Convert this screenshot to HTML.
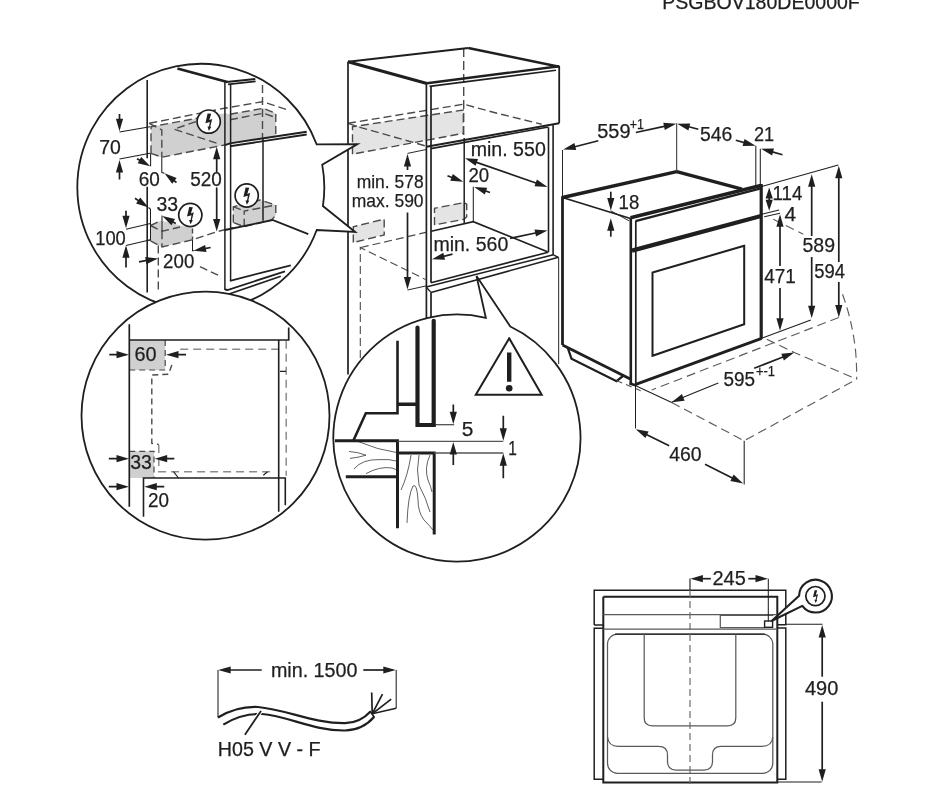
<!DOCTYPE html>
<html><head><meta charset="utf-8">
<title>PSGBOV180DE0000F</title>
<style>
html,body{margin:0;padding:0;background:#fff;}
body{width:944px;height:786px;overflow:hidden;}
svg{display:block;filter:grayscale(1) blur(0.35px);}
svg text{font-family:"Liberation Sans",sans-serif;}
</style></head><body>
<svg width="944" height="786" viewBox="0 0 944 786">
<rect width="944" height="786" fill="#fff"/>
<text x="662.2" y="9.0" font-size="19.4" fill="#1f1f1f" stroke="#1f1f1f" stroke-width="0.25" text-anchor="start" textLength="197.6" lengthAdjust="spacingAndGlyphs" >PSGBOV180DE0000F</text>
<polygon points="352.5,126.7 463.3,110.0 463.3,133.3 352.5,154.2" fill="#e3e4e6" stroke="none" stroke-width="0"/>
<polygon points="353.3,226.7 384.2,219.2 384.2,235.0 353.3,242.5" fill="#e3e4e6" stroke="none" stroke-width="0"/>
<polygon points="434.5,208.3 464.2,202.5 466.7,204.2 466.7,216.7 464.2,219.2 434.5,225.0" fill="#e3e4e6" stroke="none" stroke-width="0"/>
<path d="M348.0 123.3 L463.7 104.2 L497.0 113.3 L541.7 124.2" fill="none" stroke="#4a4a4a" stroke-width="1.4" stroke-dasharray="8 4" />
<path d="M352.5 154.2 L352.5 126.7 L463.3 110.0 L463.3 133.3 L352.5 154.2" fill="none" stroke="#4a4a4a" stroke-width="1.4" stroke-dasharray="8 4" />
<path d="M348.0 123.3 L361.0 127.6 L428.3 146.7" fill="none" stroke="#4a4a4a" stroke-width="1.4" stroke-dasharray="8 4" />
<path d="M463.7 48.0 L463.7 138.0" fill="none" stroke="#4a4a4a" stroke-width="1.4" stroke-dasharray="9 4" />
<path d="M353.3 242.5 L353.3 226.7 L384.2 219.2 L384.2 235.0 L353.3 242.5" fill="none" stroke="#4a4a4a" stroke-width="1.4" stroke-dasharray="8 4" />
<path d="M434.5 225.0 L434.5 208.3 L464.2 202.5 L466.7 204.2 L466.7 216.7 L464.2 219.2 L434.5 225.0" fill="none" stroke="#4a4a4a" stroke-width="1.4" stroke-dasharray="8 4" />
<path d="M360.8 247.5 L426.7 232.2" fill="none" stroke="#4a4a4a" stroke-width="1.2" stroke-dasharray="8 4" />
<path d="M360.3 358.0 L360.3 247.5 L425.5 279.5" fill="none" stroke="#4a4a4a" stroke-width="1.1" stroke-dasharray="8 4" />
<path d="M348.0 61.7 L348.0 374.5" fill="none" stroke="#1f1f1f" stroke-width="1.7" />
<path d="M348.0 61.7 L468.3 48.0" fill="none" stroke="#1f1f1f" stroke-width="2.0" />
<path d="M468.3 48.0 L559.2 66.7" fill="none" stroke="#1f1f1f" stroke-width="2.6" />
<path d="M348.0 61.7 L427.0 83.5" fill="none" stroke="#1f1f1f" stroke-width="3.0" />
<path d="M427.0 83.2 L559.2 66.3" fill="none" stroke="#1f1f1f" stroke-width="2.4" />
<path d="M429.5 86.4 L556.0 70.2" fill="none" stroke="#1f1f1f" stroke-width="1.6" />
<path d="M559.2 66.0 L559.2 123.3" fill="none" stroke="#1f1f1f" stroke-width="1.8" />
<path d="M426.4 146.8 L559.2 123.2" fill="none" stroke="#1f1f1f" stroke-width="2.0" />
<path d="M431.0 148.6 L548.3 127.0" fill="none" stroke="#1f1f1f" stroke-width="1.6" />
<path d="M426.4 83.5 L426.4 318.0" fill="none" stroke="#1f1f1f" stroke-width="1.7" />
<path d="M431.0 86.0 L431.0 282.7" fill="none" stroke="#1f1f1f" stroke-width="1.7" />
<path d="M431.0 292.4 L431.0 318.0" fill="none" stroke="#1f1f1f" stroke-width="1.7" />
<path d="M548.5 127.3 L548.5 252.2" fill="none" stroke="#1f1f1f" stroke-width="1.6" />
<path d="M553.1 124.7 L553.1 255.0" fill="none" stroke="#1f1f1f" stroke-width="1.6" />
<path d="M558.6 257.3 L558.6 364.0" fill="none" stroke="#4a4a4a" stroke-width="1.2" />
<path d="M464.2 138.0 L464.2 223.3" fill="none" stroke="#1f1f1f" stroke-width="1.5" />
<path d="M473.3 186.7 L473.3 221.7" fill="none" stroke="#1f1f1f" stroke-width="1.05" />
<path d="M431.2 231.3 L473.3 221.7 L547.5 251.7" fill="none" stroke="#1f1f1f" stroke-width="1.6" />
<path d="M431.0 282.7 L548.2 252.2" fill="none" stroke="#1f1f1f" stroke-width="1.7" />
<path d="M426.2 287.0 L553.4 254.8" fill="none" stroke="#1f1f1f" stroke-width="1.6" />
<path d="M431.0 292.4 L558.4 257.3" fill="none" stroke="#1f1f1f" stroke-width="1.6" />
<path d="M426.2 287.0 L431.0 292.4" fill="none" stroke="#1f1f1f" stroke-width="1.4" />
<path d="M553.4 254.8 L558.4 257.3" fill="none" stroke="#1f1f1f" stroke-width="1.4" />
<polygon points="407.5,154.0 411.1,166.5 403.9,166.5" fill="#1f1f1f" stroke="none" stroke-width="0"/>
<path d="M407.5 170.0 L407.5 164.0" fill="none" stroke="#1f1f1f" stroke-width="1.7" />
<path d="M407.5 153.4 L426.7 149.4" fill="none" stroke="#1f1f1f" stroke-width="0.95" />
<polygon points="407.5,289.6 403.9,277.1 411.1,277.1" fill="#1f1f1f" stroke="none" stroke-width="0"/>
<path d="M407.5 212.5 L407.5 279.6" fill="none" stroke="#1f1f1f" stroke-width="1.7" />
<path d="M407.5 290.0 L426.7 285.8" fill="none" stroke="#1f1f1f" stroke-width="0.95" />
<text x="356.7" y="187.6" font-size="19" fill="#1f1f1f" stroke="#1f1f1f" stroke-width="0.25" text-anchor="start" textLength="66.9" lengthAdjust="spacingAndGlyphs" >min. 578</text>
<text x="351.7" y="207.3" font-size="19" fill="#1f1f1f" stroke="#1f1f1f" stroke-width="0.25" text-anchor="start" textLength="71.9" lengthAdjust="spacingAndGlyphs" >max. 590</text>
<text x="470.7" y="155.6" font-size="20" fill="#1f1f1f" stroke="#1f1f1f" stroke-width="0.25" text-anchor="start" textLength="75.1" lengthAdjust="spacingAndGlyphs" >min. 550</text>
<polygon points="465.0,158.3 478.0,159.0 475.6,165.8" fill="#1f1f1f" stroke="none" stroke-width="0"/>
<polygon points="547.5,187.0 534.5,186.3 536.9,179.5" fill="#1f1f1f" stroke="none" stroke-width="0"/>
<path d="M474.4 161.6 L538.1 183.7" fill="none" stroke="#1f1f1f" stroke-width="1.7" />
<text x="468.4" y="182.3" font-size="20" fill="#1f1f1f" stroke="#1f1f1f" stroke-width="0.25" text-anchor="start" textLength="20.7" lengthAdjust="spacingAndGlyphs" >20</text>
<polygon points="463.3,181.7 450.3,180.7 452.8,174.0" fill="#1f1f1f" stroke="none" stroke-width="0"/>
<path d="M447.5 175.8 L453.9 178.2" fill="none" stroke="#1f1f1f" stroke-width="1.7" />
<polygon points="474.2,187.0 487.2,187.7 484.8,194.5" fill="#1f1f1f" stroke="none" stroke-width="0"/>
<path d="M490.0 192.5 L483.6 190.3" fill="none" stroke="#1f1f1f" stroke-width="1.7" />
<text x="433.4" y="251.4" font-size="20" fill="#1f1f1f" stroke="#1f1f1f" stroke-width="0.25" text-anchor="start" textLength="74.9" lengthAdjust="spacingAndGlyphs" >min. 560</text>
<polygon points="432.0,259.2 443.3,252.7 445.0,259.7" fill="#1f1f1f" stroke="none" stroke-width="0"/>
<path d="M452.5 254.2 L441.7 256.8" fill="none" stroke="#1f1f1f" stroke-width="1.7" />
<polygon points="547.5,230.5 536.0,236.6 534.5,229.5" fill="#1f1f1f" stroke="none" stroke-width="0"/>
<path d="M510.0 238.3 L537.7 232.5" fill="none" stroke="#1f1f1f" stroke-width="1.7" />
<path d="M562.5 150.0 L562.5 197.5" fill="none" stroke="#1f1f1f" stroke-width="0.95" />
<path d="M676.7 123.3 L676.7 171.7" fill="none" stroke="#1f1f1f" stroke-width="0.95" />
<path d="M562.5 197.5 L676.7 171.7" fill="none" stroke="#1f1f1f" stroke-width="3.4" />
<path d="M676.7 171.7 L742.0 189.2" fill="none" stroke="#1f1f1f" stroke-width="3.4" />
<path d="M562.5 197.5 L630.5 218.5" fill="none" stroke="#1f1f1f" stroke-width="1.7" />
<path d="M562.5 196.2 L562.5 345.0" fill="none" stroke="#1f1f1f" stroke-width="2.8" />
<path d="M630.5 217.8 L760.8 185.6" fill="none" stroke="#1f1f1f" stroke-width="3.6" />
<path d="M635.5 221.2 L760.8 188.4" fill="none" stroke="#1f1f1f" stroke-width="2.4" />
<path d="M630.8 218.0 L630.8 384.5" fill="none" stroke="#1f1f1f" stroke-width="2.6" />
<path d="M635.8 221.0 L635.8 385.5" fill="none" stroke="#1f1f1f" stroke-width="1.7" />
<path d="M761.2 184.0 L761.2 338.8" fill="none" stroke="#1f1f1f" stroke-width="3.2" />
<path d="M632.0 250.6 L761.0 216.0" fill="none" stroke="#1f1f1f" stroke-width="4.2" />
<path d="M652.5 272.5 L744.2 245.8 L744.2 324.2 L652.5 355.8 L652.5 272.5 L744.2 245.8" fill="none" stroke="#1f1f1f" stroke-width="2.0" />
<path d="M562.5 345.0 L630.8 379.2" fill="none" stroke="#1f1f1f" stroke-width="2.8" />
<path d="M635.8 384.4 L761.7 338.3" fill="none" stroke="#1f1f1f" stroke-width="3.0" />
<path d="M629.6 383.6 L636.4 385.4" fill="none" stroke="#1f1f1f" stroke-width="2.6" />
<path d="M567.8 348.0 L571.5 358.8 L616.5 381.2 L623.8 375.4" fill="none" stroke="#1f1f1f" stroke-width="2.3" />
<path d="M616.7 380.8 L643.3 391.7" fill="none" stroke="#5c5c5c" stroke-width="1.1" stroke-dasharray="6 4" />
<path d="M838.8 317.5 L651.7 390.0" fill="none" stroke="#5c5c5c" stroke-width="1.15" stroke-dasharray="9 5" />
<path d="M766.7 339.2 L794.2 352.5 L856.7 379.2" fill="none" stroke="#5c5c5c" stroke-width="1.15" stroke-dasharray="9 5" />
<path d="M671.7 402.5 L744.2 440.8 L856.7 379.2" fill="none" stroke="#5c5c5c" stroke-width="1.15" stroke-dasharray="9 5" />
<path d="M842.5 294.2 Q852 320 855.5 350 Q856.8 365 856.7 379.2" fill="none" stroke="#5c5c5c" stroke-width="1.15" stroke-dasharray="9 5" />
<path d="M773.3 219.2 L803.3 234.2" fill="none" stroke="#5c5c5c" stroke-width="1.1" stroke-dasharray="9 5" />
<path d="M635.8 385.8 L671.7 402.5" fill="none" stroke="#1f1f1f" stroke-width="1.05" />
<path d="M635.5 385.0 L635.5 428.5" fill="none" stroke="#1f1f1f" stroke-width="1.05" />
<path d="M744.2 440.8 L744.2 484.5" fill="none" stroke="#1f1f1f" stroke-width="1.05" />
<path d="M761.7 338.3 L810.8 320.0" fill="none" stroke="#1f1f1f" stroke-width="1.05" />
<path d="M760.8 186.7 L838.3 165.0" fill="none" stroke="#1f1f1f" stroke-width="1.05" />
<polygon points="563.2,149.6 574.4,143.1 576.2,150.1" fill="#1f1f1f" stroke="none" stroke-width="0"/>
<path d="M598.3 140.8 L572.9 147.2" fill="none" stroke="#1f1f1f" stroke-width="1.7" />
<polygon points="676.3,123.7 664.8,129.9 663.3,122.8" fill="#1f1f1f" stroke="none" stroke-width="0"/>
<path d="M635.8 132.5 L666.5 125.8" fill="none" stroke="#1f1f1f" stroke-width="1.7" />
<text x="597.2" y="137.5" font-size="20" fill="#1f1f1f" stroke="#1f1f1f" stroke-width="0.25" text-anchor="start" textLength="33.3" lengthAdjust="spacingAndGlyphs" >559</text>
<text x="629.8" y="128.6" font-size="14" fill="#1f1f1f" stroke="#1f1f1f" stroke-width="0.25" text-anchor="start" textLength="14.2" lengthAdjust="spacingAndGlyphs" >+1</text>
<polygon points="677.2,123.8 690.2,123.4 688.4,130.4" fill="#1f1f1f" stroke="none" stroke-width="0"/>
<path d="M698.3 129.2 L686.9 126.3" fill="none" stroke="#1f1f1f" stroke-width="1.7" />
<text x="700.0" y="140.6" font-size="20" fill="#1f1f1f" stroke="#1f1f1f" stroke-width="0.25" text-anchor="start" textLength="32.4" lengthAdjust="spacingAndGlyphs" >546</text>
<text x="753.9" y="140.6" font-size="20" fill="#1f1f1f" stroke="#1f1f1f" stroke-width="0.25" text-anchor="start" textLength="20.2" lengthAdjust="spacingAndGlyphs" >21</text>
<polygon points="755.6,145.7 742.6,145.9 744.5,138.9" fill="#1f1f1f" stroke="none" stroke-width="0"/>
<path d="M735.8 140.3 L746.0 143.1" fill="none" stroke="#1f1f1f" stroke-width="1.7" />
<polygon points="761.0,148.8 774.0,148.6 772.1,155.6" fill="#1f1f1f" stroke="none" stroke-width="0"/>
<path d="M782.5 154.7 L770.6 151.4" fill="none" stroke="#1f1f1f" stroke-width="1.7" />
<path d="M755.8 145.8 L755.8 185.0" fill="none" stroke="#1f1f1f" stroke-width="1.05" />
<path d="M760.3 148.7 L760.3 185.8" fill="none" stroke="#1f1f1f" stroke-width="1.05" />
<polygon points="610.8,210.5 607.2,198.0 614.4,198.0" fill="#1f1f1f" stroke="none" stroke-width="0"/>
<path d="M610.8 191.7 L610.8 200.5" fill="none" stroke="#1f1f1f" stroke-width="1.7" />
<polygon points="610.8,218.3 614.4,230.8 607.2,230.8" fill="#1f1f1f" stroke="none" stroke-width="0"/>
<path d="M610.8 236.7 L610.8 228.3" fill="none" stroke="#1f1f1f" stroke-width="1.7" />
<path d="M610.8 210.8 L629.0 220.8" fill="none" stroke="#1f1f1f" stroke-width="0.95" />
<text x="618.6" y="209.0" font-size="20" fill="#1f1f1f" stroke="#1f1f1f" stroke-width="0.25" text-anchor="start" textLength="20.7" lengthAdjust="spacingAndGlyphs" >18</text>
<polygon points="769.2,187.5 772.8,198.5 765.6,198.5" fill="#1f1f1f" stroke="none" stroke-width="0"/>
<path d="M769.2 199.0 L769.2 196.3" fill="none" stroke="#1f1f1f" stroke-width="1.7" />
<polygon points="769.2,210.8 765.6,199.8 772.8,199.8" fill="#1f1f1f" stroke="none" stroke-width="0"/>
<path d="M769.2 199.0 L769.2 202.0" fill="none" stroke="#1f1f1f" stroke-width="1.7" />
<text x="772.5" y="200.3" font-size="20" fill="#1f1f1f" stroke="#1f1f1f" stroke-width="0.25" text-anchor="start" textLength="29.8" lengthAdjust="spacingAndGlyphs" >114</text>
<path d="M761.7 214.2 L779.2 210.0" fill="none" stroke="#1f1f1f" stroke-width="1.05" />
<path d="M764.2 216.7 L780.0 213.3" fill="none" stroke="#1f1f1f" stroke-width="1.05" />
<text x="784.4" y="220.8" font-size="20" fill="#1f1f1f" stroke="#1f1f1f" stroke-width="0.25" text-anchor="start" textLength="11.6" lengthAdjust="spacingAndGlyphs" >4</text>
<polygon points="780.0,214.2 783.6,226.7 776.4,226.7" fill="#1f1f1f" stroke="none" stroke-width="0"/>
<path d="M780.0 266.0 L780.0 224.2" fill="none" stroke="#1f1f1f" stroke-width="1.7" />
<polygon points="780.0,330.8 776.4,318.3 783.6,318.3" fill="#1f1f1f" stroke="none" stroke-width="0"/>
<path d="M780.0 288.0 L780.0 320.8" fill="none" stroke="#1f1f1f" stroke-width="1.7" />
<text x="764.2" y="283.0" font-size="20" fill="#1f1f1f" stroke="#1f1f1f" stroke-width="0.25" text-anchor="start" textLength="31.6" lengthAdjust="spacingAndGlyphs" >471</text>
<polygon points="811.7,174.2 815.3,186.7 808.1,186.7" fill="#1f1f1f" stroke="none" stroke-width="0"/>
<path d="M811.7 236.0 L811.7 184.2" fill="none" stroke="#1f1f1f" stroke-width="1.7" />
<polygon points="811.7,318.3 808.1,305.8 815.3,305.8" fill="#1f1f1f" stroke="none" stroke-width="0"/>
<path d="M811.7 257.0 L811.7 308.3" fill="none" stroke="#1f1f1f" stroke-width="1.7" />
<text x="802.5" y="252.1" font-size="20" fill="#1f1f1f" stroke="#1f1f1f" stroke-width="0.25" text-anchor="start" textLength="32.5" lengthAdjust="spacingAndGlyphs" >589</text>
<polygon points="838.8,165.8 842.4,178.3 835.2,178.3" fill="#1f1f1f" stroke="none" stroke-width="0"/>
<path d="M838.8 262.0 L838.8 175.8" fill="none" stroke="#1f1f1f" stroke-width="1.7" />
<polygon points="838.8,317.5 835.2,305.0 842.4,305.0" fill="#1f1f1f" stroke="none" stroke-width="0"/>
<path d="M838.8 282.0 L838.8 307.5" fill="none" stroke="#1f1f1f" stroke-width="1.7" />
<text x="814.2" y="277.5" font-size="20" fill="#1f1f1f" stroke="#1f1f1f" stroke-width="0.25" text-anchor="start" textLength="30.8" lengthAdjust="spacingAndGlyphs" >594</text>
<path d="M671.7 402.2 L690.0 394.6 L718.3 383.0" fill="none" stroke="#1f1f1f" stroke-width="1.1" />
<polygon points="671.7,402.2 681.9,394.1 684.6,400.8" fill="#1f1f1f" stroke="none" stroke-width="0"/>
<polygon points="794.2,352.5 783.9,360.4 781.3,353.7" fill="#1f1f1f" stroke="none" stroke-width="0"/>
<path d="M754.2 368.3 L784.9 356.2" fill="none" stroke="#1f1f1f" stroke-width="1.7" />
<text x="723.4" y="386.4" font-size="20" fill="#1f1f1f" stroke="#1f1f1f" stroke-width="0.25" text-anchor="start" textLength="31.6" lengthAdjust="spacingAndGlyphs" >595</text>
<text x="755.9" y="375.8" font-size="14" fill="#1f1f1f" stroke="#1f1f1f" stroke-width="0.25" text-anchor="start" textLength="19.1" lengthAdjust="spacingAndGlyphs" >+-1</text>
<polygon points="635.8,429.2 648.6,431.5 645.4,438.0" fill="#1f1f1f" stroke="none" stroke-width="0"/>
<path d="M669.2 445.8 L644.8 433.7" fill="none" stroke="#1f1f1f" stroke-width="1.7" />
<polygon points="743.2,483.4 730.4,481.0 733.6,474.6" fill="#1f1f1f" stroke="none" stroke-width="0"/>
<path d="M705.0 464.2 L734.3 478.9" fill="none" stroke="#1f1f1f" stroke-width="1.7" />
<text x="669.2" y="461.4" font-size="20" fill="#1f1f1f" stroke="#1f1f1f" stroke-width="0.25" text-anchor="start" textLength="32.4" lengthAdjust="spacingAndGlyphs" >460</text>
<clipPath id="c1"><circle cx="200.8" cy="187.3" r="122.9"/></clipPath>
<path d="M316.6 144.3 L357.4 144.1 L322.2 164.6 A123.5 123.5 0 0 1 322.9 206 L355.2 232 L316.7 230 A123.5 123.5 0 1 1 316.6 144.3 Z" fill="#fff" stroke="#1f1f1f" stroke-width="1.8" stroke-linejoin="miter"/>
<g clip-path="url(#c1)">
<polygon points="151.0,126.7 224.6,113.2 230.0,114.2 263.3,108.3 275.8,113.3 275.8,136.0 230.0,143.3 224.6,145.0 161.8,157.2 151.0,153.3" fill="#cfd0d2" stroke="none" stroke-width="0"/>
<polygon points="150.5,225.5 158.6,221.7 162.0,220.8 192.5,228.4 192.5,239.8 162.0,247.0 150.5,240.8" fill="#cfd0d2" stroke="none" stroke-width="0"/>
<polygon points="233.3,206.7 260.0,200.0 275.8,205.0 275.8,215.0 271.7,220.0 244.2,226.7 233.3,222.5" fill="#cfd0d2" stroke="none" stroke-width="0"/>
<path d="M149.3 123.3 L224.3 108.3 L262.5 101.7 L288.0 110.0" fill="none" stroke="#4a4a4a" stroke-width="1.4" stroke-dasharray="8 4" />
<path d="M151.0 153.3 L151.0 126.7 L208.0 116.3" fill="none" stroke="#4a4a4a" stroke-width="1.4" stroke-dasharray="8 4" />
<path d="M149.3 123.3 L161.8 130.0 L161.8 157.2" fill="none" stroke="#4a4a4a" stroke-width="1.4" stroke-dasharray="8 4" />
<path d="M151.0 153.3 L161.8 157.2 L224.6 145.0" fill="none" stroke="#4a4a4a" stroke-width="1.4" stroke-dasharray="8 4" />
<path d="M196.0 121.6 L174.0 129.2 L217.5 143.5" fill="none" stroke="#4a4a4a" stroke-width="1.4" stroke-dasharray="8 4" />
<path d="M230.0 119.8 L263.3 113.2 L275.8 117.5" fill="none" stroke="#4a4a4a" stroke-width="1.4" stroke-dasharray="8 4" />
<path d="M230.0 114.2 L263.3 108.3 L275.8 113.3 L275.8 134.0" fill="none" stroke="#4a4a4a" stroke-width="1.4" stroke-dasharray="8 4" />
<path d="M262.5 85.0 L262.5 138.0" fill="none" stroke="#4a4a4a" stroke-width="1.4" stroke-dasharray="8 4" />
<path d="M150.5 225.5 L162.0 231.3 L180.0 227.0" fill="none" stroke="#4a4a4a" stroke-width="1.4" stroke-dasharray="8 4" />
<path d="M150.5 225.5 L158.6 221.7" fill="none" stroke="#4a4a4a" stroke-width="1.4" stroke-dasharray="8 4" />
<path d="M162.0 231.3 L162.0 247.0" fill="none" stroke="#4a4a4a" stroke-width="1.4" stroke-dasharray="8 4" />
<path d="M150.5 240.8 L162.0 247.0 L192.5 239.8 L216.8 231.7 L233.0 227.6" fill="none" stroke="#4a4a4a" stroke-width="1.4" stroke-dasharray="8 4" />
<path d="M192.5 228.4 L192.5 239.8" fill="none" stroke="#4a4a4a" stroke-width="1.4" stroke-dasharray="5 3" />
<path d="M158.3 245.6 L158.3 292.0" fill="none" stroke="#4a4a4a" stroke-width="1.4" stroke-dasharray="8 4" />
<path d="M200.0 266.7 L219.3 275.8" fill="none" stroke="#4a4a4a" stroke-width="1.4" stroke-dasharray="8 4" />
<path d="M233.3 222.5 L233.3 206.7 L260.0 200.0 L275.8 205.0 L275.8 215.0 L271.7 220.0 L244.2 226.7 L233.3 222.5" fill="none" stroke="#4a4a4a" stroke-width="1.4" stroke-dasharray="8 4" />
<path d="M244.2 226.7 L244.2 211.0 L275.8 205.0" fill="none" stroke="#4a4a4a" stroke-width="1.4" stroke-dasharray="8 4" />
<path d="M233.3 206.7 L244.2 211.0" fill="none" stroke="#4a4a4a" stroke-width="1.4" stroke-dasharray="8 4" />
<path d="M147.2 80.0 L147.2 158.2" fill="none" stroke="#1f1f1f" stroke-width="1.6" />
<path d="M147.2 186.7 L147.2 292.5" fill="none" stroke="#1f1f1f" stroke-width="1.6" />
<path d="M150.6 153.3 L150.6 166.3" fill="none" stroke="#1f1f1f" stroke-width="1.05" />
<path d="M148.5 207.5 L150.5 209.3 L150.5 240.0 L147.2 240.6" fill="none" stroke="#1f1f1f" stroke-width="1.05" />
<path d="M177.4 68.5 L227.4 82.0" fill="none" stroke="#1f1f1f" stroke-width="2.8" />
<path d="M226.5 82.0 L255.3 79.0" fill="none" stroke="#1f1f1f" stroke-width="1.9" />
<path d="M228.0 84.4 L255.6 81.4" fill="none" stroke="#1f1f1f" stroke-width="1.7" />
<path d="M224.9 82.0 L224.9 290.0" fill="none" stroke="#1f1f1f" stroke-width="1.5" />
<path d="M230.6 84.0 L230.6 281.0" fill="none" stroke="#1f1f1f" stroke-width="1.5" />
<path d="M225.0 145.2 L230.0 143.3 L306.7 131.7" fill="none" stroke="#1f1f1f" stroke-width="1.9" />
<path d="M230.0 146.2 L306.7 134.5" fill="none" stroke="#1f1f1f" stroke-width="1.9" />
<path d="M263.0 138.0 L263.0 220.8" fill="none" stroke="#1f1f1f" stroke-width="1.5" />
<path d="M225.0 230.0 L272.5 220.0 L308.3 234.2" fill="none" stroke="#1f1f1f" stroke-width="1.8" />
<path d="M230.0 280.8 L290.8 265.3" fill="none" stroke="#1f1f1f" stroke-width="1.8" />
<path d="M225.0 289.5 L227.5 290.0 L285.0 271.3" fill="none" stroke="#1f1f1f" stroke-width="1.8" />
<path d="M229.0 294.0 L280.8 276.3" fill="none" stroke="#1f1f1f" stroke-width="1.7" />
<polygon points="119.5,131.3 115.9,118.8 123.1,118.8" fill="#1f1f1f" stroke="none" stroke-width="0"/>
<path d="M119.5 114.0 L119.5 121.3" fill="none" stroke="#1f1f1f" stroke-width="1.7" />
<polygon points="119.5,160.0 123.1,172.5 115.9,172.5" fill="#1f1f1f" stroke="none" stroke-width="0"/>
<path d="M119.5 179.5 L119.5 170.0" fill="none" stroke="#1f1f1f" stroke-width="1.7" />
<path d="M119.5 132.0 L150.0 126.8" fill="none" stroke="#1f1f1f" stroke-width="1.05" />
<path d="M119.5 159.0 L150.0 153.2" fill="none" stroke="#1f1f1f" stroke-width="1.05" />
<text x="99.2" y="153.8" font-size="20" fill="#1f1f1f" stroke="#1f1f1f" stroke-width="0.25" text-anchor="start" textLength="21.6" lengthAdjust="spacingAndGlyphs" >70</text>
<polygon points="150.3,166.3 137.7,163.2 141.2,157.0" fill="#1f1f1f" stroke="none" stroke-width="0"/>
<path d="M137.0 158.7 L141.6 161.3" fill="none" stroke="#1f1f1f" stroke-width="1.7" />
<polygon points="164.5,173.3 176.6,178.0 172.2,183.8" fill="#1f1f1f" stroke="none" stroke-width="0"/>
<path d="M176.5 182.5 L172.4 179.4" fill="none" stroke="#1f1f1f" stroke-width="1.7" />
<path d="M161.8 157.2 L161.8 172.5 L164.5 173.3" fill="none" stroke="#1f1f1f" stroke-width="1.05" />
<text x="138.7" y="186.3" font-size="20" fill="#1f1f1f" stroke="#1f1f1f" stroke-width="0.25" text-anchor="start" textLength="21.1" lengthAdjust="spacingAndGlyphs" >60</text>
<polygon points="216.7,146.7 220.3,159.2 213.1,159.2" fill="#1f1f1f" stroke="none" stroke-width="0"/>
<path d="M216.7 172.0 L216.7 156.7" fill="none" stroke="#1f1f1f" stroke-width="1.7" />
<polygon points="216.7,231.5 213.1,219.0 220.3,219.0" fill="#1f1f1f" stroke="none" stroke-width="0"/>
<path d="M216.7 187.5 L216.7 221.5" fill="none" stroke="#1f1f1f" stroke-width="1.7" />
<text x="190.2" y="186.3" font-size="20" fill="#1f1f1f" stroke="#1f1f1f" stroke-width="0.25" text-anchor="start" textLength="31.6" lengthAdjust="spacingAndGlyphs" >520</text>
<polygon points="148.5,207.5 136.1,203.4 140.2,197.5" fill="#1f1f1f" stroke="none" stroke-width="0"/>
<path d="M135.0 198.3 L140.2 201.9" fill="none" stroke="#1f1f1f" stroke-width="1.7" />
<polygon points="162.3,216.0 175.0,219.0 171.4,225.3" fill="#1f1f1f" stroke="none" stroke-width="0"/>
<path d="M175.8 223.6 L171.0 220.9" fill="none" stroke="#1f1f1f" stroke-width="1.7" />
<path d="M162.0 215.5 L162.0 231.3" fill="none" stroke="#1f1f1f" stroke-width="1.05" />
<text x="156.4" y="211.1" font-size="20" fill="#1f1f1f" stroke="#1f1f1f" stroke-width="0.25" text-anchor="start" textLength="21.6" lengthAdjust="spacingAndGlyphs" >33</text>
<polygon points="126.0,228.3 122.4,215.8 129.6,215.8" fill="#1f1f1f" stroke="none" stroke-width="0"/>
<path d="M126.0 210.8 L126.0 218.3" fill="none" stroke="#1f1f1f" stroke-width="1.7" />
<polygon points="126.0,245.3 129.6,257.8 122.4,257.8" fill="#1f1f1f" stroke="none" stroke-width="0"/>
<path d="M126.0 267.5 L126.0 255.3" fill="none" stroke="#1f1f1f" stroke-width="1.7" />
<path d="M126.0 229.2 L150.5 223.6" fill="none" stroke="#1f1f1f" stroke-width="1.05" />
<path d="M126.0 245.4 L150.5 239.8" fill="none" stroke="#1f1f1f" stroke-width="1.05" />
<text x="95.2" y="245.0" font-size="20" fill="#1f1f1f" stroke="#1f1f1f" stroke-width="0.25" text-anchor="start" textLength="30.6" lengthAdjust="spacingAndGlyphs" >100</text>
<polygon points="158.1,258.5 146.4,264.2 145.2,257.1" fill="#1f1f1f" stroke="none" stroke-width="0"/>
<path d="M139.0 261.8 L148.2 260.2" fill="none" stroke="#1f1f1f" stroke-width="1.7" />
<polygon points="193.5,250.8 205.1,244.9 206.5,252.0" fill="#1f1f1f" stroke="none" stroke-width="0"/>
<path d="M210.6 247.5 L203.3 248.9" fill="none" stroke="#1f1f1f" stroke-width="1.7" />
<path d="M192.5 239.8 L192.5 250.8 L194.0 250.8" fill="none" stroke="#1f1f1f" stroke-width="1.05" />
<text x="163.1" y="267.8" font-size="20" fill="#1f1f1f" stroke="#1f1f1f" stroke-width="0.25" text-anchor="start" textLength="31.2" lengthAdjust="spacingAndGlyphs" >200</text>
</g>
<circle cx="208.7" cy="121.6" r="11.6" fill="#fff" stroke="#1f1f1f" stroke-width="1.7"/>
<polygon points="207.6,113.6 211.2,113.8 209.3,120.0 212.2,118.9 210.3,126.6 211.2,126.9 208.9,130.9 207.5,126.6 209.0,126.6 209.9,121.9 205.4,123.2" fill="#1f1f1f" stroke="none" stroke-width="0"/>
<circle cx="190.3" cy="215.0" r="11.6" fill="#fff" stroke="#1f1f1f" stroke-width="1.7"/>
<polygon points="189.2,207.0 192.8,207.2 190.9,213.4 193.8,212.3 191.9,220.0 192.8,220.3 190.5,224.3 189.1,220.0 190.6,220.0 191.5,215.3 187.0,216.6" fill="#1f1f1f" stroke="none" stroke-width="0"/>
<circle cx="246.7" cy="195.5" r="11.6" fill="#fff" stroke="#1f1f1f" stroke-width="1.7"/>
<polygon points="245.6,187.5 249.2,187.7 247.3,193.9 250.2,192.8 248.3,200.5 249.2,200.8 246.9,204.8 245.5,200.5 247.0,200.5 247.9,195.8 243.4,197.1" fill="#1f1f1f" stroke="none" stroke-width="0"/>
<clipPath id="c2"><circle cx="205.5" cy="415.7" r="123.4"/></clipPath>
<circle cx="205.5" cy="415.7" r="124" fill="#fff" stroke="#1f1f1f" stroke-width="1.8"/>
<g clip-path="url(#c2)">
<rect x="129.3" y="340" width="35.9" height="30" fill="#cfd0d2"/>
<rect x="129.3" y="451.3" width="24.7" height="26.7" fill="#cfd0d2"/>
<path d="M180.2 349.2 L278.0 349.2" fill="none" stroke="#8c8c8c" stroke-width="1.5" stroke-dasharray="8 5" />
<path d="M286.2 340.8 L286.2 475.8" fill="none" stroke="#8c8c8c" stroke-width="1.5" stroke-dasharray="8 5" />
<path d="M158.8 445.0 L158.8 471.7 L270.8 471.7" fill="none" stroke="#8c8c8c" stroke-width="1.5" stroke-dasharray="8 5" />
<path d="M165.2 340.0 L165.2 370.0 L129.3 370.0" fill="none" stroke="#4a4a4a" stroke-width="1.2" stroke-dasharray="6 4" />
<path d="M171.8 365.0 L168.5 374.2 L151.8 375.0 L151.8 443.3 L158.8 444.5" fill="none" stroke="#4a4a4a" stroke-width="1.4" stroke-dasharray="6 4" />
<path d="M129.3 451.3 L154.0 451.3 L154.0 478.0" fill="none" stroke="#4a4a4a" stroke-width="1.2" stroke-dasharray="6 4" />
<path d="M129.3 324.2 L129.3 506.7" fill="none" stroke="#1f1f1f" stroke-width="1.7" />
<path d="M129.3 340.0 L288.7 340.0 L288.7 327.5" fill="none" stroke="#1f1f1f" stroke-width="1.7" />
<path d="M278.7 340.0 L278.7 511.7" fill="none" stroke="#1f1f1f" stroke-width="1.6" />
<path d="M143.5 516.7 L143.5 478.0 L285.3 478.0 L285.3 505.3" fill="none" stroke="#1f1f1f" stroke-width="1.6" />
<path d="M173.5 471.7 L178.5 478.0" fill="none" stroke="#1f1f1f" stroke-width="1.15" />
<path d="M263.3 475.3 L267.5 471.7" fill="none" stroke="#1f1f1f" stroke-width="1.15" />
<path d="M280.0 371.3 L286.0 371.3" fill="none" stroke="#1f1f1f" stroke-width="1.15" />
<polygon points="129.0,354.7 116.5,358.3 116.5,351.1" fill="#1f1f1f" stroke="none" stroke-width="0"/>
<path d="M109.3 354.7 L119.0 354.7" fill="none" stroke="#1f1f1f" stroke-width="1.7" />
<polygon points="166.0,354.7 178.5,351.1 178.5,358.3" fill="#1f1f1f" stroke="none" stroke-width="0"/>
<path d="M186.0 354.7 L176.0 354.7" fill="none" stroke="#1f1f1f" stroke-width="1.7" />
<text x="134.4" y="361.4" font-size="20" fill="#1f1f1f" stroke="#1f1f1f" stroke-width="0.25" text-anchor="start" textLength="22.1" lengthAdjust="spacingAndGlyphs" >60</text>
<polygon points="129.0,458.7 116.5,462.3 116.5,455.1" fill="#1f1f1f" stroke="none" stroke-width="0"/>
<path d="M108.8 458.7 L119.0 458.7" fill="none" stroke="#1f1f1f" stroke-width="1.7" />
<polygon points="154.7,458.7 167.2,455.1 167.2,462.3" fill="#1f1f1f" stroke="none" stroke-width="0"/>
<path d="M174.3 458.7 L164.7 458.7" fill="none" stroke="#1f1f1f" stroke-width="1.7" />
<text x="130.2" y="469.3" font-size="20" fill="#1f1f1f" stroke="#1f1f1f" stroke-width="0.25" text-anchor="start" textLength="21.6" lengthAdjust="spacingAndGlyphs" >33</text>
<polygon points="129.0,486.7 116.5,490.3 116.5,483.1" fill="#1f1f1f" stroke="none" stroke-width="0"/>
<path d="M108.8 486.7 L119.0 486.7" fill="none" stroke="#1f1f1f" stroke-width="1.7" />
<polygon points="144.3,486.7 156.8,483.1 156.8,490.3" fill="#1f1f1f" stroke="none" stroke-width="0"/>
<path d="M164.3 486.7 L154.3 486.7" fill="none" stroke="#1f1f1f" stroke-width="1.7" />
<text x="148.0" y="506.9" font-size="20" fill="#1f1f1f" stroke="#1f1f1f" stroke-width="0.25" text-anchor="start" textLength="21.0" lengthAdjust="spacingAndGlyphs" >20</text>
</g>
<clipPath id="c3"><circle cx="456.9" cy="438" r="123"/></clipPath>
<path d="M485.8 317.8 L476.5 276 L510.3 326.5 A123.6 123.6 0 1 1 485.8 317.8 Z" fill="#fff" stroke="#1f1f1f" stroke-width="1.8" />
<g clip-path="url(#c3)">
<path d="M358 441.5 Q378 450 397 452.6" fill="none" stroke="#3a3a3a" stroke-width="0.8" />
<path d="M349 451.5 Q358 452 366 455.2 Q358 457.6 350 458.4" fill="none" stroke="#3a3a3a" stroke-width="0.8" />
<path d="M354 469 Q362 459 380 459.6 Q390 459 396 461" fill="none" stroke="#3a3a3a" stroke-width="0.8" />
<path d="M366 473.6 Q380 466 392 468 Q396 469 397 471" fill="none" stroke="#3a3a3a" stroke-width="0.8" />
<path d="M411 455 Q408 475 401 490" fill="none" stroke="#3a3a3a" stroke-width="0.8" />
<path d="M407 523 Q408 495 413 486 Q417 483 418 500 Q418 512 424 520 Q430 526 433 530" fill="none" stroke="#3a3a3a" stroke-width="0.8" />
<path d="M419 455 Q416 470 419 485 Q426 498 430 512" fill="none" stroke="#3a3a3a" stroke-width="0.8" />
<path d="M430 455 Q424 468 428 480 Q431 487 432 492" fill="none" stroke="#3a3a3a" stroke-width="0.8" />
<path d="M397.5 340.8 L397.5 413.3 L365.8 413.3 L353.3 440.8" fill="none" stroke="#1f1f1f" stroke-width="2.6" />
<path d="M397.5 404.2 L417.5 404.2" fill="none" stroke="#1f1f1f" stroke-width="3.4" />
<path d="M417.5 327.5 L417.5 425.0 L433.7 425.0 L433.7 320.8" fill="none" stroke="#1f1f1f" stroke-width="4.2" stroke-linecap="round" />
<path d="M335.0 440.8 L397.5 440.8 L397.5 528.3" fill="none" stroke="#1f1f1f" stroke-width="3.0" />
<path d="M345.8 476.7 L397.5 476.7" fill="none" stroke="#1f1f1f" stroke-width="3.0" />
<path d="M397.5 453.0 L434.2 453.0 L434.2 534.5" fill="none" stroke="#1f1f1f" stroke-width="3.0" />
<path d="M397.5 441.3 L503.3 441.3" fill="none" stroke="#555" stroke-width="1.3" />
<path d="M434.2 453.0 L503.3 453.0" fill="none" stroke="#555" stroke-width="1.3" />
<path d="M433.7 424.7 L454.2 424.7" fill="none" stroke="#1f1f1f" stroke-width="1.05" />
<polygon points="453.3,424.2 449.7,411.7 456.9,411.7" fill="#1f1f1f" stroke="none" stroke-width="0"/>
<path d="M453.3 404.5 L453.3 414.2" fill="none" stroke="#1f1f1f" stroke-width="1.7" />
<polygon points="453.3,442.0 456.9,454.5 449.7,454.5" fill="#1f1f1f" stroke="none" stroke-width="0"/>
<path d="M453.3 465.0 L453.3 452.0" fill="none" stroke="#1f1f1f" stroke-width="1.7" />
<text x="461.8" y="436.1" font-size="20" fill="#1f1f1f" stroke="#1f1f1f" stroke-width="0.25" text-anchor="start" textLength="11.6" lengthAdjust="spacingAndGlyphs" >5</text>
<polygon points="503.3,440.8 499.7,428.3 506.9,428.3" fill="#1f1f1f" stroke="none" stroke-width="0"/>
<path d="M503.3 415.8 L503.3 430.8" fill="none" stroke="#1f1f1f" stroke-width="1.7" />
<polygon points="503.3,453.3 506.9,465.8 499.7,465.8" fill="#1f1f1f" stroke="none" stroke-width="0"/>
<path d="M503.3 478.3 L503.3 463.3" fill="none" stroke="#1f1f1f" stroke-width="1.7" />
<text x="508.2" y="454.6" font-size="20" fill="#1f1f1f" stroke="#1f1f1f" stroke-width="0.25" text-anchor="start" textLength="8.6" lengthAdjust="spacingAndGlyphs" >1</text>
<path d="M509.2 338.3 L541.7 394.7 L475.8 394.7 L509.2 338.3" fill="none" stroke="#1f1f1f" stroke-width="2.0" stroke-linecap="square"/>
<path d="M509.2 352.5 L509.2 381.7" fill="none" stroke="#1f1f1f" stroke-width="4.4" />
<circle cx="509.2" cy="388.3" r="3.3" fill="#1f1f1f"/>
</g>
<path d="M218.0 670.0 L218.0 717.5" fill="none" stroke="#1f1f1f" stroke-width="1.05" />
<path d="M396.2 670.0 L396.2 708.3" fill="none" stroke="#1f1f1f" stroke-width="1.05" />
<polygon points="218.2,670.0 230.7,666.4 230.7,673.6" fill="#1f1f1f" stroke="none" stroke-width="0"/>
<path d="M261.7 670.0 L228.2 670.0" fill="none" stroke="#1f1f1f" stroke-width="1.7" />
<polygon points="395.8,670.0 383.3,673.6 383.3,666.4" fill="#1f1f1f" stroke="none" stroke-width="0"/>
<path d="M363.3 670.0 L385.8 670.0" fill="none" stroke="#1f1f1f" stroke-width="1.7" />
<text x="270.9" y="676.7" font-size="20" fill="#1f1f1f" stroke="#1f1f1f" stroke-width="0.25" text-anchor="start" textLength="86.6" lengthAdjust="spacingAndGlyphs" >min. 1500</text>
<text x="217.8" y="756.3" font-size="19.5" fill="#1f1f1f" stroke="#1f1f1f" stroke-width="0.25" text-anchor="start" textLength="102.8" lengthAdjust="spacingAndGlyphs" >H05 V V - F</text>
<path d="M218 717.5 C232 709 246 706.5 258 707 C286 709.5 314 723.5 345 723.2 C357 723 365 717.5 370.5 711.5" fill="none" stroke="#1f1f1f" stroke-width="2.2" />
<path d="M223.3 724.7 C236 716.5 250 713.6 262 714 C288 716 314 731 345 730.5 C359 730 368 724 374.2 716.7" fill="none" stroke="#1f1f1f" stroke-width="2.2" />
<path d="M261.0 711.0 L244.9 734.7" fill="none" stroke="#fff" stroke-width="4.0" />
<path d="M261.0 711.0 L244.9 734.7" fill="none" stroke="#1f1f1f" stroke-width="1.8" />
<path d="M372.2 713.8 L371.7 692.5" fill="none" stroke="#1f1f1f" stroke-width="1.7" />
<path d="M372.2 713.8 L382.5 694.2" fill="none" stroke="#1f1f1f" stroke-width="1.7" />
<path d="M372.2 713.8 L391.2 699.2" fill="none" stroke="#1f1f1f" stroke-width="1.7" />
<path d="M372.2 713.8 L396.2 708.3" fill="none" stroke="#1f1f1f" stroke-width="1.4" />
<path d="M369.8 711.0 L374.4 717.2" fill="none" stroke="#1f1f1f" stroke-width="1.6" />
<path d="M594.2 625.0 L594.2 590.3 L785.8 590.3 L785.8 624.7 L777.5 624.7" fill="none" stroke="#1f1f1f" stroke-width="1.5" />
<path d="M594.2 625.0 L603.3 625.0" fill="none" stroke="#1f1f1f" stroke-width="1.5" />
<path d="M603.3 628.3 L594.2 628.3 L594.2 779.2 L603.3 779.2" fill="none" stroke="#1f1f1f" stroke-width="1.5" />
<path d="M777.5 628.0 L785.8 628.0 L785.8 779.2 L777.5 779.2" fill="none" stroke="#1f1f1f" stroke-width="1.5" />
<path d="M603.3 596.7 L777.3 596.7 L777.3 782.5 L603.3 782.5 L603.3 596.7" fill="none" stroke="#1f1f1f" stroke-width="2.0" />
<path d="M603.3 614.7 L777.3 614.7" fill="none" stroke="#5a5a5a" stroke-width="1.25" />
<path d="M603.3 629.2 L777.3 629.2" fill="none" stroke="#5a5a5a" stroke-width="1.25" />
<path d="M773.3 615.3 L720.3 615.3 L720.3 627.5 L765.0 627.5" fill="none" stroke="#5a5a5a" stroke-width="1.25" />
<rect x="764.6" y="621" width="8" height="6.3" fill="#fff" stroke="#1f1f1f" stroke-width="1.4"/>
<rect x="607.5" y="634.2" width="165.3" height="139.1" rx="10" ry="10" fill="none" stroke="#5a5a5a" stroke-width="1.25"/>
<path d="M615.0 634.2 L765.0 634.2" fill="none" stroke="#333" stroke-width="1.6" />
<path d="M644.2 634.2 V717.8 Q644.2 725.8 652.2 725.8 H727.8 Q735.8 725.8 735.8 717.8 V634.2" fill="none" stroke="#5a5a5a" stroke-width="1.25" />
<path d="M607.5 737 Q608.5 746.3 618 746.3 H658.5 Q667.5 746.3 667.5 755 V761.5 Q667.5 770 676 770 H704 Q712.5 770 712.5 761.5 V755 Q712.5 746.3 721 746.3 H762 Q772 746.3 772.8 737" fill="none" stroke="#5a5a5a" stroke-width="1.25" />
<path d="M690.0 578.5 L690.0 590.0" fill="none" stroke="#1f1f1f" stroke-width="1.15" />
<path d="M690.0 590.0 L690.0 786.0" fill="none" stroke="#666" stroke-width="1.15" stroke-dasharray="7 4" />
<polygon points="690.4,578.7 702.9,575.1 702.9,582.3" fill="#1f1f1f" stroke="none" stroke-width="0"/>
<path d="M710.8 578.7 L700.4 578.7" fill="none" stroke="#1f1f1f" stroke-width="1.7" />
<polygon points="768.0,578.7 755.5,582.3 755.5,575.1" fill="#1f1f1f" stroke="none" stroke-width="0"/>
<path d="M748.3 578.7 L758.0 578.7" fill="none" stroke="#1f1f1f" stroke-width="1.7" />
<text x="712.5" y="585.4" font-size="20" fill="#1f1f1f" stroke="#1f1f1f" stroke-width="0.25" text-anchor="start" textLength="33.3" lengthAdjust="spacingAndGlyphs" >245</text>
<path d="M768.3 578.7 L768.3 621.5" fill="none" stroke="#1f1f1f" stroke-width="1.05" />
<path d="M785.8 624.2 L822.5 624.2" fill="none" stroke="#1f1f1f" stroke-width="1.05" />
<path d="M777.5 782.0 L821.7 782.0" fill="none" stroke="#1f1f1f" stroke-width="1.05" />
<polygon points="822.2,625.0 825.8,637.5 818.6,637.5" fill="#1f1f1f" stroke="none" stroke-width="0"/>
<path d="M822.2 676.7 L822.2 635.0" fill="none" stroke="#1f1f1f" stroke-width="1.7" />
<polygon points="822.2,781.7 818.6,769.2 825.8,769.2" fill="#1f1f1f" stroke="none" stroke-width="0"/>
<path d="M822.2 701.7 L822.2 771.7" fill="none" stroke="#1f1f1f" stroke-width="1.7" />
<text x="805.0" y="695.2" font-size="20" fill="#1f1f1f" stroke="#1f1f1f" stroke-width="0.25" text-anchor="start" textLength="33.3" lengthAdjust="spacingAndGlyphs" >490</text>
<path d="M771.9 620.8 L799.1 595.7 A16.4 16.4 0 1 1 802.3 605.9 Z" fill="#fff" stroke="#1f1f1f" stroke-width="2.1" stroke-linejoin="round"/>
<circle cx="815.4" cy="596.1" r="9.6" fill="#fff" stroke="#1f1f1f" stroke-width="1.7"/>
<polygon points="814.6,590.2 817.2,590.3 815.8,594.9 818.0,594.1 816.6,599.8 817.2,600.0 815.5,603.0 814.5,599.8 815.6,599.8 816.3,596.3 813.0,597.3" fill="#1f1f1f" stroke="none" stroke-width="0"/>
</svg>
</body></html>
